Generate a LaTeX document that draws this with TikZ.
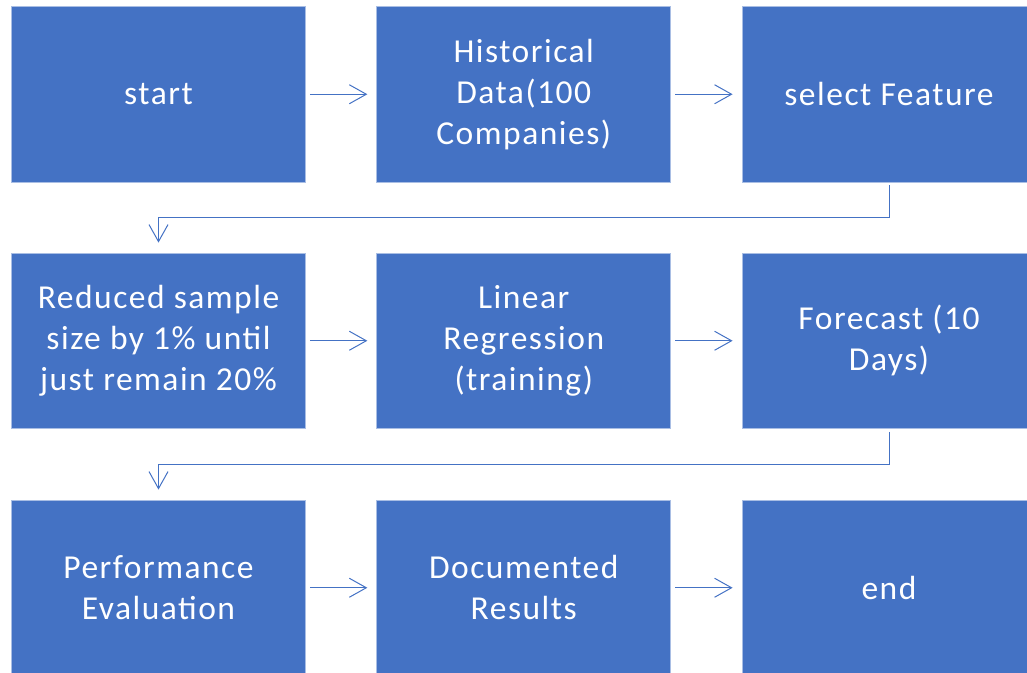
\documentclass[tikz,border=0pt]{standalone}
\usepackage{fontspec}
\setmainfont{Carlito}[LetterSpace=4.5]
\usetikzlibrary{arrows.meta}
\definecolor{boxblue}{HTML}{4472C4}
\definecolor{edgeblue}{HTML}{A9BEE4}
\begin{document}
\begin{tikzpicture}[x=1pt,y=-1pt,
  box/.style={rectangle,fill=boxblue,draw=edgeblue,line width=0.8pt,
    minimum width=294pt,minimum height=175.5pt,inner sep=0pt,
    text=white,align=center,font=\fontsize{33.5}{41}\selectfont},
  arr/.style={draw=boxblue,line width=1pt,-{Straight Barb[length=17pt,width=19pt,line width=1pt]}}]
\useasboundingbox (0,0) rectangle (1027,672);
\clip (0,0) rectangle (1027,672);
\node[box] (n1) at (158.5,94.25) {start};
\node[box] (n2) at (523.75,94.25) {Historical\\Data(100\\Companies)};
\node[box] (n3) at (889,94.25) {select Feature};
\node[box] (n4) at (158.5,340.75) {Reduced sample\\size by 1\% until\\just remain 20\%};
\node[box] (n5) at (523.75,340.75) {Linear\\Regression\\(training)};
\node[box] (n6) at (889,340.75) {Forecast (10\\Days)};
\node[box] (n7) at (158.5,587.75) {Performance\\Evaluation};
\node[box] (n8) at (523.75,587.75) {Documented\\Results};
\node[box] (n9) at (889,587.75) {end};
\draw[arr] ([xshift=4pt]n1.east) -- ([xshift=-9pt]n2.west);
\draw[arr] ([xshift=4pt]n2.east) -- ([xshift=-9pt]n3.west);
\draw[arr] ([xshift=4pt]n4.east) -- ([xshift=-9pt]n5.west);
\draw[arr] ([xshift=4pt]n5.east) -- ([xshift=-9pt]n6.west);
\draw[arr] ([xshift=4pt]n7.east) -- ([xshift=-9pt]n8.west);
\draw[arr] ([xshift=4pt]n8.east) -- ([xshift=-9pt]n9.west);
\draw[arr] ([yshift=-3pt]n3.south) -- ++(0,32.5) -| ([yshift=10pt]n4.north);
\draw[arr] ([yshift=-3pt]n6.south) -- ++(0,32.5) -| ([yshift=10pt]n7.north);
\end{tikzpicture}
\end{document}
